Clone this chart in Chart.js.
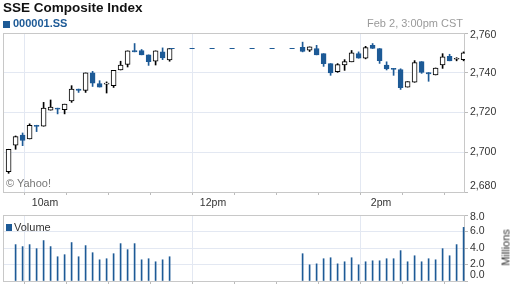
<!DOCTYPE html>
<html>
<head>
<meta charset="utf-8">
<script src="https://cdn.jsdelivr.net/npm/chart.js@4/dist/chart.umd.min.js"></script>
<style>
  body { margin: 0; background: #fff; font-family: "Liberation Sans", Arial, sans-serif; }
  #wrap { position: relative; width: 512px; height: 288px; overflow: hidden; }
  .box { position: absolute; left: 0; width: 512px; }
  .txt { position: absolute; line-height: 1; white-space: nowrap; }
  .sq { position: absolute; background: #1d5a96; }
</style>
</head>
<body>
<div id="wrap">
  <div class="box" style="top:0;height:212px"><canvas id="priceChart" width="512" height="212"></canvas></div>
  <div class="box" style="top:205px;height:83px"><canvas id="volumeChart" width="512" height="83"></canvas></div>

  <div class="txt" style="left:3px;top:1px;font-size:13.5px;font-weight:bold;color:#111">SSE Composite Index</div>
  <div class="sq" style="left:3px;top:21px;width:7px;height:7px"></div>
  <div class="txt" style="left:13px;top:18px;font-size:11px;font-weight:bold;color:#1d5a96">000001.SS</div>
  <div class="txt" style="right:49px;top:18px;font-size:11px;color:#9a9a9a">Feb 2, 3:00pm CST</div>
  <div class="txt" style="left:6px;top:178px;font-size:11px;color:#777">© Yahoo!</div>
  <div class="sq" style="left:6px;top:224px;width:6px;height:7px"></div>
  <div class="txt" style="left:14px;top:222px;font-size:11px;color:#333">Volume</div>
  <div class="txt" style="left:483px;top:242px;width:46px;text-align:center;font-size:11px;color:#333;transform:rotate(-90deg)">Millions</div>
</div>
<script>
// 5-minute bars, Feb 2 session
const times = [
  '9:30','9:35','9:40','9:45','9:50','9:55','10:00','10:05','10:10','10:15','10:20','10:25',
  '10:30','10:35','10:40','10:45','10:50','10:55','11:00','11:05','11:10','11:15','11:20','11:25',
  '13:00','13:05','13:10','13:15','13:20','13:25','13:30','13:35','13:40','13:45','13:50','13:55',
  '14:00','14:05','14:10','14:15','14:20','14:25','14:30','14:35','14:40','14:45','14:50','14:55'
];
const open = [
  2690.2, 2703.5, 2708.6, 2706.7, 2713.3, 2713.1, 2721.2, 2722.2, 2721.4, 2725.8, 2731.8, 2731.1,
  2739.9, 2734.6, 2734.3, 2733.5, 2741.4, 2744.2, 2751.2, 2751.2, 2749.0, 2745.8, 2750.5, 2746.5,
  2752.8, 2751.3, 2752.2, 2749.6, 2744.6, 2740.6, 2743.9, 2745.5, 2749.6, 2747.3, 2753.8, 2752.2,
  2743.9, 2742.2, 2741.6, 2732.8, 2735.2, 2745.6, 2740.1, 2738.9, 2743.9, 2748.3, 2746.8, 2746.6
];
const high = [
  2701.5, 2708.2, 2709.7, 2714.3, 2713.6, 2725.1, 2726.3, 2722.2, 2724.2, 2733.5, 2731.8, 2739.9,
  2740.7, 2736.0, 2735.4, 2741.2, 2745.8, 2751.0, 2754.7, 2751.7, 2749.0, 2751.0, 2752.5, 2752.2,
  2755.4, 2753.0, 2753.8, 2749.6, 2744.6, 2744.6, 2746.6, 2751.2, 2750.5, 2753.3, 2754.7, 2752.2,
  2745.5, 2742.2, 2742.0, 2735.5, 2746.1, 2745.6, 2740.1, 2742.4, 2749.6, 2749.3, 2747.6, 2750.5
];
const low = [
  2689.4, 2701.5, 2703.3, 2706.7, 2710.4, 2713.1, 2721.2, 2719.3, 2719.3, 2725.1, 2730.1, 2730.1,
  2733.1, 2732.8, 2729.8, 2732.6, 2741.4, 2742.9, 2750.5, 2749.0, 2743.7, 2743.9, 2746.6, 2745.8,
  2750.5, 2750.7, 2749.0, 2743.2, 2738.7, 2740.2, 2741.2, 2745.5, 2747.3, 2747.0, 2752.2, 2744.7,
  2741.4, 2738.7, 2731.6, 2732.8, 2735.2, 2739.7, 2735.7, 2738.9, 2742.2, 2746.0, 2746.0, 2746.0
];
const close = [
  2701.5, 2707.9, 2705.9, 2713.6, 2713.0, 2722.2, 2722.7, 2721.7, 2724.2, 2731.8, 2731.1, 2739.9,
  2734.8, 2732.8, 2734.3, 2741.2, 2743.9, 2751.0, 2750.5, 2749.0, 2745.6, 2751.0, 2747.5, 2752.2,
  2750.7, 2753.0, 2749.0, 2744.6, 2739.9, 2744.1, 2745.6, 2750.0, 2747.3, 2752.7, 2752.2, 2746.1,
  2741.9, 2741.7, 2732.5, 2735.5, 2745.1, 2740.2, 2739.4, 2742.4, 2748.0, 2746.0, 2746.8, 2750.0
];
// millions of shares
const volume = [
  null, 4.41, 4.17, 4.41, 3.92, 4.90, 4.17, 2.94, 3.19, 4.66, 2.94, 4.29,
  3.43, 2.57, 2.70, 3.31, 4.53, 3.80, 4.53, 2.57, 2.70, 2.33, 2.57, 2.94,
  3.31, 1.96, 2.08, 2.70, 2.82, 2.08, 2.33, 2.82, 1.96, 2.33, 2.45, 2.45,
  2.70, 2.70, 3.68, 2.33, 3.06, 2.33, 2.70, 2.57, 3.92, 3.06, 4.41, 6.50
];
const hourTicks = [600, 720, 840];
const hourLabels = ['10am', '12pm', '2pm'];

const BLUE = '#1d5a96';
const GRID = '#e3e8f2';
const FRAME = '#c8c8c8';
const BAR_OFFSET = 4; // bars sit near the end of their 5 min slot
const SESSION_START = 570, SESSION_END = 900; // 9:30 .. 15:00

Chart.defaults.font.family = '"Liberation Sans", Arial, sans-serif';
Chart.defaults.color = '#333';

const toMinutes = t => { const [h, m] = t.split(':').map(Number); return h * 60 + m; };
const xs = times.map(t => toMinutes(t) + BAR_OFFSET);
const isUp = close.map((c, i) => c >= open[i]);
const lunch = times.indexOf('13:00');

// border round the plot area
const frame = {
  id: 'frame',
  beforeDatasetsDraw(chart) {
    const { left, top, right, bottom } = chart.chartArea;
    const ctx = chart.ctx;
    ctx.save();
    ctx.strokeStyle = FRAME;
    ctx.lineWidth = 1;
    ctx.strokeRect(left + 0.5, top + 0.5, right - left - 1, bottom - top);
    ctx.restore();
  }
};

// right axis labels, first/last pulled inside the plot like the original
const sideLabels = {
  id: 'sideLabels',
  afterDraw(chart) {
    const s = chart.scales.y, ctx = chart.ctx;
    ctx.save();
    ctx.font = '10.5px "Liberation Sans", Arial, sans-serif';
    ctx.fillStyle = '#333';
    ctx.textBaseline = 'middle';
    s.ticks.forEach(t => {
      const y = Math.min(Math.max(s.getPixelForValue(t.value), s.top + 2.5), s.bottom - 5.5);
      ctx.fillText(t.label, s.left + 5, y);
    });
    ctx.restore();
  }
};

function timeAxis(showLabels, height) {
  return {
    type: 'linear',
    min: SESSION_START,
    max: SESSION_END,
    offset: false,
    afterBuildTicks: scale => {
      const ticks = [];
      for (let v = SESSION_START; v <= SESSION_END; v += 30) ticks.push({ value: v });
      scale.ticks = ticks;
    },
    afterFit: scale => { scale.height = height; },
    border: { display: false },
    grid: {
      color: c => (c.tick && hourTicks.includes(c.tick.value)) ? GRID : 'transparent',
      tickColor: '#bbb',
      tickLength: 3
    },
    ticks: {
      display: showLabels,
      autoSkip: false,
      maxRotation: 0,
      padding: 2,
      font: { size: 10.5 },
      color: '#333',
      callback: v => hourLabels[hourTicks.indexOf(v)] || ''
    }
  };
}

function valueAxis(min, max, step, fmt) {
  return {
    position: 'right',
    min, max,
    afterFit: scale => { scale.width = 47; },
    border: { display: false },
    grid: { color: GRID, tickColor: '#bbb', tickLength: 3 },
    ticks: { display: false, stepSize: step, callback: fmt }
  };
}

new Chart(document.getElementById('priceChart'), {
  type: 'bar',
  data: {
    datasets: [
      {
        label: 'range',
        data: xs.map((x, i) => ({ x, y: [low[i], high[i]] })),
        backgroundColor: isUp.map(u => u ? '#000' : BLUE),
        barThickness: 1,
        grouped: false,
        order: 2
      },
      {
        label: 'body',
        data: xs.map((x, i) => ({ x, y: [open[i], close[i]] })),
        backgroundColor: isUp.map(u => u ? '#fff' : BLUE),
        borderColor: isUp.map(u => u ? '#000' : BLUE),
        borderWidth: 1,
        borderSkipped: false,
        barThickness: 5,
        minBarLength: 1,
        grouped: false,
        order: 1
      },
      {
        type: 'line',
        label: 'lunch',
        data: [
          { x: xs[lunch - 1], y: close[lunch - 1] },
          { x: xs[lunch], y: close[lunch - 1] }
        ],
        borderColor: BLUE,
        borderWidth: 1,
        borderDash: [5, 15],
        pointRadius: 0,
        order: 0
      }
    ]
  },
  options: {
    responsive: false,
    animation: false,
    devicePixelRatio: 1,
    layout: { padding: { top: 33, left: 3, right: 0, bottom: 0 } },
    plugins: { legend: { display: false }, tooltip: { enabled: false } },
    scales: {
      x: timeAxis(true, 20),
      y: valueAxis(2680, 2760, 20, v => v.toLocaleString('en-US'))
    }
  },
  plugins: [frame, sideLabels]
});

new Chart(document.getElementById('volumeChart'), {
  type: 'bar',
  data: {
    datasets: [{
      label: 'Volume',
      data: xs.map((x, i) => ({ x, y: volume[i] })).filter(d => d.y !== null),
      backgroundColor: BLUE,
      barThickness: 1
    }]
  },
  options: {
    responsive: false,
    animation: false,
    devicePixelRatio: 1,
    layout: { padding: { top: 10, left: 3, right: 0, bottom: 0 } },
    plugins: { legend: { display: false }, tooltip: { enabled: false } },
    scales: {
      x: timeAxis(false, 7),
      y: valueAxis(0, 8, 2, v => v.toFixed(1))
    }
  },
  plugins: [frame, sideLabels]
});
</script>
</body>
</html>
